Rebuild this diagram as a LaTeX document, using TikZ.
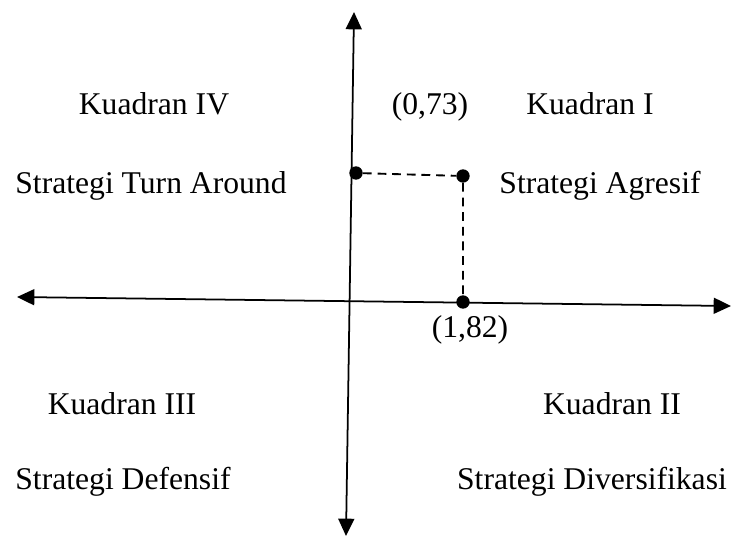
\documentclass[tikz,border=0pt]{standalone}
\usepackage{fontspec}
\setmainfont{Liberation Serif}
\usetikzlibrary{arrows.meta,positioning}

\begin{document}
\begin{tikzpicture}[x=0.03cm, y=-0.03cm,
  lbl/.style={font=\fontsize{27}{31}\selectfont, anchor=base, inner sep=0pt},
  axis/.style={{Triangle[length=0.52cm, width=0.48cm]}-{Triangle[length=0.52cm, width=0.48cm]}, line width=1.5pt},
  pt/.style={circle, fill=black, inner sep=0pt, minimum size=0.4cm},
  guide/.style={line width=1.6pt, dash pattern=on 7.5pt off 5pt}
]
\useasboundingbox (0,0) rectangle (731,537);

% axes
\coordinate (ytop) at (354,12);
\coordinate (ybot) at (346,536);
\coordinate (xleft) at (17,297);
\coordinate (xright) at (731,306);
\draw[axis] (ybot) -- (ytop);
\draw[axis] (xleft) -- (xright);

% point and its projections
\node[pt] (py) at (356,173) {};
\node[pt] (pq) at (463,176) {};
\node[pt] (px) at (463,302) {};
\draw[guide] (py) -- (pq) -- (px);

% labels
\node[lbl] (k4) at (154,115) {Kuadran IV};
\node[lbl] (s4) at (151,193) {Strategi Turn Around};
\node[lbl] (vy) at (430,115) {(0,73)};
\node[lbl] (k1) at (590,115) {Kuadran I};
\node[lbl] (s1) at (600,193) {Strategi Agresif};
\node[lbl] (vx) at (470,337) {(1,82)};
\node[lbl] (k3) at (122,414) {Kuadran III};
\node[lbl] (k2) at (612,414) {Kuadran II};
\node[lbl] (s3) at (123,489) {Strategi Defensif};
\node[lbl] (s2) at (592,489) {Strategi Diversifikasi};
\end{tikzpicture}
\end{document}
